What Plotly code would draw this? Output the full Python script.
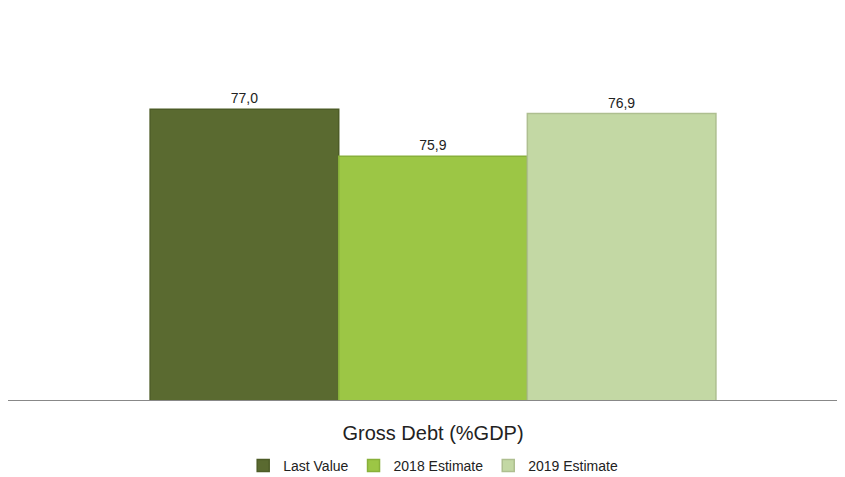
import plotly.graph_objects as go

categories = ["Gross Debt (%GDP)"]
series_names = ["Last Value", "2018 Estimate", "2019 Estimate"]
series_values = [[77.0], [75.9], [76.9]]
colors = ["#5a6a30", "#9cc645", "#c3d8a4"]
edge_colors = ["#4d5c27", "#88b03a", "#aebf90"]

fig = go.Figure()
for name, vals, c, ec in zip(series_names, series_values, colors, edge_colors):
    fig.add_trace(go.Bar(
        x=categories, y=vals, name=name,
        marker=dict(color=c, line=dict(color=ec, width=1.5)),
        texttemplate="%{y:.1f}", textposition="outside",
        textfont=dict(family="Liberation Sans", size=14, color="#222"),
        cliponaxis=False,
    ))

fig.update_layout(
    width=837, height=469,
    margin=dict(l=0, r=0, t=50, b=77, autoexpand=False),
    paper_bgcolor="white", plot_bgcolor="white",
    barmode="group", bargap=0.324, bargroupgap=0,
    separators=", ",
    font=dict(family="Liberation Sans", color="#222"),
    showlegend=True,
    legend=dict(orientation="h", x=0.508, xanchor="center", xref="container",
                y=0.0235, yanchor="middle", yref="container",
                font=dict(size=14, color="#222"), itemwidth=30,
                traceorder="normal"),
    xaxis=dict(type="category", range=[-0.5078, 0.4922], showline=True,
               linecolor="#888", linewidth=1, ticks="outside", ticklen=15,
               tickcolor="rgba(0,0,0,0)", showgrid=False,
               tickfont=dict(size=20, color="#222")),
    yaxis=dict(range=[70.2, 78.2], visible=False, showgrid=False, zeroline=False),
)

fig.write_html("out.html")
